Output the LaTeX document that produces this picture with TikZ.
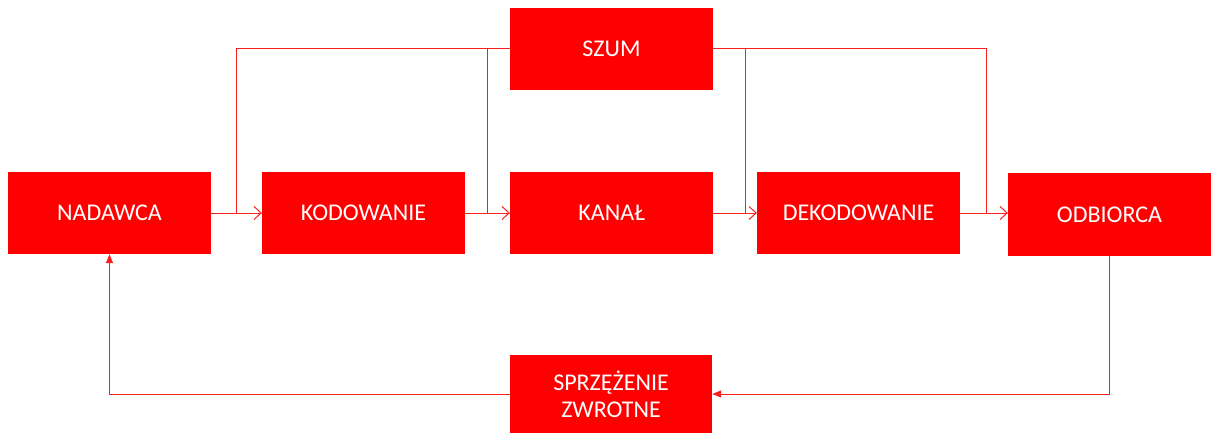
\documentclass[tikz,border=0pt]{standalone}
\usepackage{fontspec}
\setmainfont{Carlito}
\usetikzlibrary{arrows.meta}
\definecolor{boxred}{RGB}{255,0,0}
\definecolor{linered}{RGB}{250,30,30}
\tikzset{
  box/.style={fill=boxred, draw=none, text=white, minimum width=203pt, minimum height=82pt,
    inner sep=0pt, align=center, font=\fontsize{24}{27}\selectfont},
  conn/.style={draw=linered, line width=1pt},
  arr/.style={conn, -{Straight Barb[length=7pt,width=13pt,line width=1pt]}},
  farr/.style={conn, -{Triangle[length=9pt,width=7pt]}}
}
\begin{document}
\begin{tikzpicture}[x=1pt,y=-1pt]
\useasboundingbox (0,0) rectangle (1214,433);
\node[box] (nad) at (109.5,213) {NADAWCA};
\node[box] (kod) at (363.5,213) {KODOWANIE};
\node[box] (kan) at (611.5,213) {KANAŁ};
\node[box] (dek) at (858.5,213) {DEKODOWANIE};
\node[box, minimum height=83pt] (odb) at (1109.5,214.5) {ODBIORCA};
\node[box] (szum) at (611.5,49) {SZUM};
\node[box, minimum width=202pt, minimum height=79pt] (spr) at (611,394) {SPRZĘŻENIE\\ZWROTNE};
\coordinate (j1) at (236,213);
\coordinate (j2) at (487,213);
\coordinate (j3) at (745,213);
\coordinate (j4) at (986,213);
\draw[arr] (nad) -- (kod);
\draw[arr] (kod) -- (kan);
\draw[arr] (kan) -- (dek);
\draw[arr] (dek.east) -- (dek.east -| odb.west);
\draw[conn] (szum.west) -| (j1);
\draw[conn] (j2 |- szum.west) -- (j2);
\draw[conn] (szum.east) -| (j4);
\draw[conn] (j3 |- szum.east) -- (j3);
\draw[farr] (odb.south) |- (spr.east);
\draw[farr] (spr.west) -| (nad.south);
\end{tikzpicture}
\end{document}
